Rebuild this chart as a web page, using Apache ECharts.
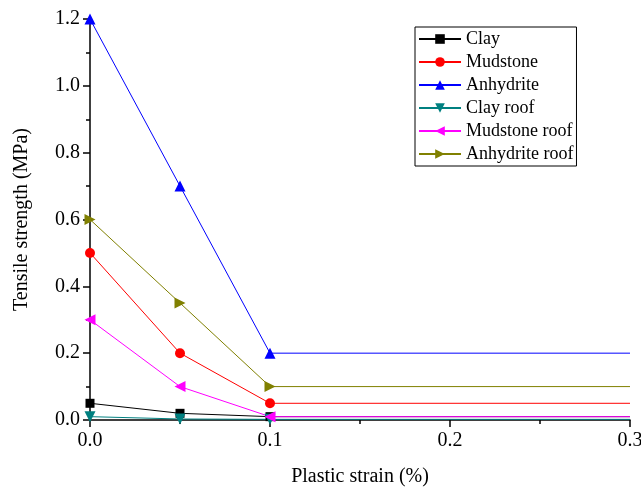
<!DOCTYPE html>
<html>
<head>
<meta charset="utf-8">
<script src="https://cdn.jsdelivr.net/npm/echarts@6/dist/echarts.min.js"></script>
<style>
  html, body { margin: 0; padding: 0; background: #fff; }
  #chart { width: 641px; height: 490px; }
</style>
</head>
<body>
<div id="chart"></div>
<script>
"use strict";
var strain = [0, 0.05, 0.1, 0.3];
var clay = [0.05, 0.02, 0.01, 0.01];
var mudstone = [0.5, 0.2, 0.05, 0.05];
var anhydrite = [1.2, 0.7, 0.2, 0.2];
var clayRoof = [0.01, 0.003, 0.002, 0.002];
var mudstoneRoof = [0.3, 0.1, 0.01, 0.01];
var anhydriteRoof = [0.6, 0.35, 0.1, 0.1];

var FONT = '"Liberation Serif", "Times New Roman", serif';

// the last point (0.3) carries no marker in the original
function pairs(ys) {
    var out = [];
    for (var i = 0; i < strain.length; i++) {
        if (i === strain.length - 1)
            out.push({ value: [strain[i], ys[i]], symbol: 'none' });
        else
            out.push([strain[i], ys[i]]);
    }
    return out;
}

function makeSeries(name, ys, color, symbol, size, rotate) {
    return {
        name: name,
        type: 'line',
        data: pairs(ys),
        symbol: symbol,
        symbolSize: size,
        symbolRotate: rotate || 0,
        showAllSymbol: true,
        clip: true,
        lineStyle: { color: color, width: 1 },
        itemStyle: { color: color },
        emphasis: { disabled: true },
        animation: false
    };
}

var chart = echarts.init(document.getElementById('chart'));
chart.setOption({
    backgroundColor: '#fff',
    animation: false,
    textStyle: { fontFamily: FONT },
    grid: { left: 90, right: 11, top: 19, bottom: 70, containLabel: false, outerBoundsMode: 'none' },
    legend: {
        orient: 'vertical',
        left: 415,
        top: 27,
        padding: [3, 3],
        itemGap: 5,
        itemWidth: 42,
        itemHeight: 12,
        borderColor: '#000',
        borderWidth: 1,
        textStyle: { fontFamily: FONT, fontSize: 18, color: '#000' },
        data: ['Clay', 'Mudstone', 'Anhydrite', 'Clay roof', 'Mudstone roof', 'Anhydrite roof']
    },
    xAxis: {
        type: 'value',
        min: 0,
        max: 0.3,
        interval: 0.1,
        name: 'Plastic strain (%)',
        nameLocation: 'middle',
        nameGap: 47,
        nameTextStyle: { fontFamily: FONT, fontSize: 20, color: '#000' },
        axisLine: { lineStyle: { color: '#000', width: 1.5 } },
        axisTick: { length: 7, lineStyle: { color: '#000', width: 1.5 } },
        minorTick: { show: true, splitNumber: 2, length: 4, lineStyle: { color: '#000', width: 1.5 } },
        splitLine: { show: false },
        axisLabel: { fontFamily: FONT, fontSize: 20, color: '#000', margin: 11, formatter: function (v) { return v.toFixed(1); } }
    },
    yAxis: {
        type: 'value',
        min: 0,
        max: 1.2,
        interval: 0.2,
        name: 'Tensile strength (MPa)',
        nameLocation: 'middle',
        nameGap: 58,
        nameTextStyle: { fontFamily: FONT, fontSize: 20, color: '#000' },
        axisLine: { show: true, lineStyle: { color: '#000', width: 1.5 } },
        axisTick: { show: true, length: 7, lineStyle: { color: '#000', width: 1.5 } },
        minorTick: { show: true, splitNumber: 2, length: 4, lineStyle: { color: '#000', width: 1.5 } },
        splitLine: { show: false },
        axisLabel: { fontFamily: FONT, fontSize: 20, color: '#000', margin: 10, formatter: function (v) { return v.toFixed(1); } }
    },
    series: [
        makeSeries('Clay', clay, '#000000', 'rect', 9),
        makeSeries('Mudstone', mudstone, '#ff0000', 'circle', 10),
        makeSeries('Anhydrite', anhydrite, '#0000ff', 'triangle', 11),
        makeSeries('Clay roof', clayRoof, '#008080', 'triangle', 11, 180),
        makeSeries('Mudstone roof', mudstoneRoof, '#ff00ff', 'triangle', 11, 90),
        makeSeries('Anhydrite roof', anhydriteRoof, '#808000', 'triangle', 11, -90)
    ]
});
</script>
</body>
</html>
